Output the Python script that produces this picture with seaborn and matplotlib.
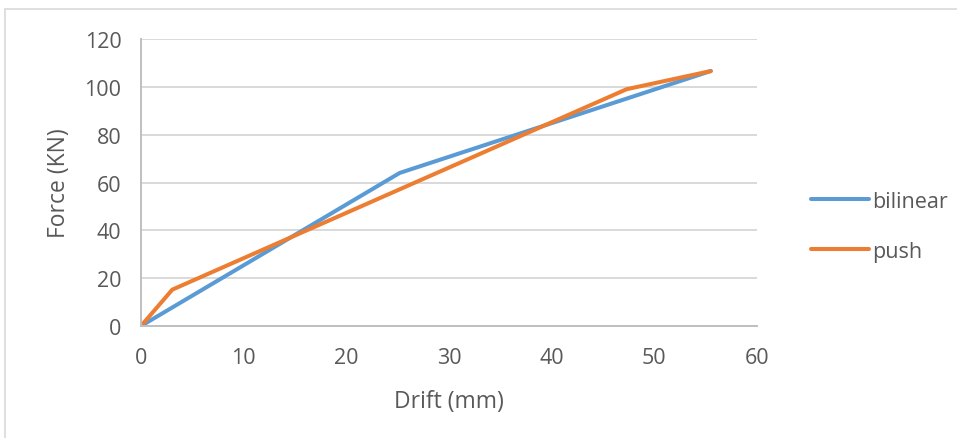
import matplotlib.pyplot as plt
import matplotlib.patches as mpatches
import seaborn as sns
import pandas as pd

# values
bilinear_drift = [0, 25.2, 55.5]
bilinear_force = [0, 64.0, 106.6]
push_drift = [0, 3.05, 47.3, 55.5]
push_force = [0, 15.2, 99.0, 106.6]

x_ticks = [0, 10, 20, 30, 40, 50, 60]
y_ticks = [0, 20, 40, 60, 80, 100, 120]

df = pd.concat([
    pd.DataFrame({'drift': bilinear_drift, 'force': bilinear_force, 'series': 'bilinear'}),
    pd.DataFrame({'drift': push_drift, 'force': push_force, 'series': 'push'}),
])

sns.set_style('white')
plt.rcParams['font.family'] = ['Open Sans', 'DejaVu Sans']
txt = '#595959'

fig = plt.figure(figsize=(9.57, 4.39), dpi=100)
ax = fig.add_axes([0.1473, 0.2551, 0.791 - 0.1473, 0.9089 - 0.2551])

sns.lineplot(data=df, x='drift', y='force', hue='series', sort=False,
             palette={'bilinear': '#5B9BD5', 'push': '#ED7D31'},
             linewidth=2.9, ax=ax, estimator=None)
for ln in ax.lines:
    ln.set_solid_capstyle('round')
    ln.set_solid_joinstyle('round')

ax.set_xlim(0, 60)
ax.set_ylim(0, 120)
ax.set_xticks(x_ticks)
ax.set_yticks(y_ticks)
ax.tick_params(axis='both', length=0, labelsize=15.5, labelcolor=txt)
ax.tick_params(axis='y', pad=14)
ax.tick_params(axis='x', pad=15)

ax.yaxis.grid(True, color='#D9D9D9', linewidth=1.4)
ax.xaxis.grid(False)
ax.set_axisbelow(True)
for s in ['top', 'right']:
    ax.spines[s].set_visible(False)
for s in ['left', 'bottom']:
    ax.spines[s].set_color('#BFBFBF')
    ax.spines[s].set_linewidth(1.4)

ax.set_xlabel('Drift (mm)', fontsize=16.5, color=txt, labelpad=15)
ax.set_ylabel('Force (KN)', fontsize=16.5, color=txt, labelpad=10)

leg = ax.legend(loc='center left', bbox_to_anchor=(1.056, 0.347), frameon=False,
                fontsize=15.5, handlelength=2.7, handletextpad=0.15, labelspacing=1.35)
for t in leg.get_texts():
    t.set_color(txt)

# chart-area border like the Excel frame
fig.patches.append(mpatches.Rectangle((5 / 957, -0.1), 1.2, 1 - 10 / 439 + 0.1,
                                      transform=fig.transFigure, fill=False,
                                      edgecolor='#D9D9D9', linewidth=1.2))

fig.savefig('out.png', dpi=100)
